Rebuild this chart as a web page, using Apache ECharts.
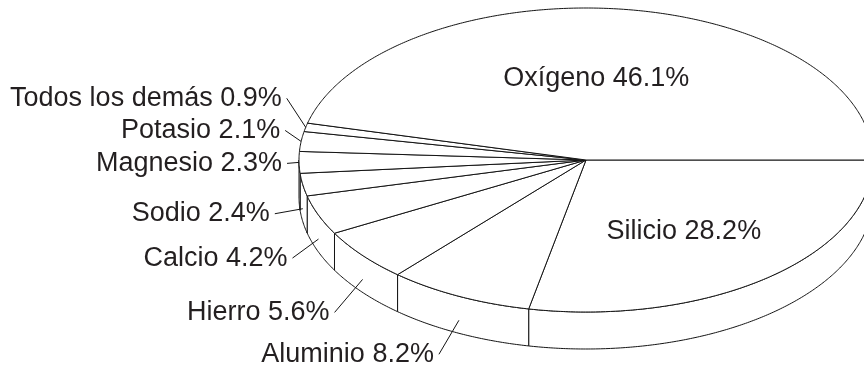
<!DOCTYPE html>
<html>
<head>
<meta charset="utf-8">
<script src="https://cdn.jsdelivr.net/npm/echarts@6/dist/echarts.min.js"></script>
<style>
  html, body { margin: 0; padding: 0; background: #ffffff; }
  #chart { width: 864px; height: 373px; }
</style>
</head>
<body>
<div id="chart"></div>
<script>
// Composition of the Earth's crust by element (percent), listed clockwise from 3 o'clock
const categories = ['Silicio', 'Aluminio', 'Hierro', 'Calcio', 'Sodio', 'Magnesio', 'Potasio', 'Todos los demás', 'Oxígeno'];
const values = [28.2, 8.2, 5.6, 4.2, 2.4, 2.3, 2.1, 0.9, 46.1];

// Layout of the tilted pie (pixels)
const PIE = { cx: 586, cy: 160, rx: 287, ry: 152, depth: 37 };
const LINE = '#141414';
const TEXT = '#231f20';
const FONT = '27px "Liberation Sans", Arial, Helvetica, sans-serif';
// Leader line vectors for outside labels (null = label inside the slice)
const leaderVectors = [null, [-20, 34], [-28, 33], [-26, 19], [-28, 5], [-12, 1], [-16, -11], [-19, -29], null];
// Outside labels attached to the side wall rather than the rim
const anchorOnWall = [false, true, true, true, true, false, false, false, false];
// Nudges for the labels drawn inside their slices
const insideNudge = [[-2, 7], null, null, null, null, null, null, null, [-9, 2]];
const INSIDE_FRACTION = 0.55;
const WALL_DROP = 24;
const LABEL_GAP = 5;

const total = values.reduce((s, v) => s + v, 0);
const cumulative = [];
values.reduce((s, v, i) => { cumulative[i] = s; return s + v; }, 0);

const rad = d => d * Math.PI / 180;
function rim(deg, dy) {
  return [PIE.cx + PIE.rx * Math.cos(rad(deg)), PIE.cy + PIE.ry * Math.sin(rad(deg)) + (dy || 0)];
}
function arc(a, b, dy) {
  const n = Math.max(2, Math.ceil(Math.abs(b - a) / 0.5));
  const pts = [];
  for (let k = 0; k <= n; k++) pts.push(rim(a + (b - a) * k / n, dy));
  return pts;
}

function renderItem(params, api) {
  const i = params.dataIndex;
  const v = api.value(0);
  const a0 = cumulative[i] / total * 360;
  const a1 = a0 + v / total * 360;
  const mid = (a0 + a1) / 2;
  const lineStyle = { fill: '#ffffff', stroke: LINE, lineWidth: 1 };
  const children = [];

  // side wall on the front half of the disc
  const w0 = Math.max(a0, 0), w1 = Math.min(a1, 180);
  if (w1 > w0) {
    const pts = arc(w0, w1, 0).concat(arc(w1, w0, PIE.depth));
    children.push({ type: 'polygon', shape: { points: pts }, style: lineStyle });
  }

  // top face
  const top = [[PIE.cx, PIE.cy]].concat(arc(a0, a1, 0));
  children.push({ type: 'polygon', shape: { points: top }, style: lineStyle });

  // label
  const label = categories[i] + ' ' + v.toFixed(1) + '%';
  const vec = leaderVectors[i];
  if (vec) {
    const p = rim(mid, anchorOnWall[i] ? WALL_DROP : 0);
    const end = [p[0] + vec[0], p[1] + vec[1]];
    children.push({
      type: 'line',
      shape: { x1: p[0], y1: p[1], x2: end[0], y2: end[1] },
      style: { stroke: LINE, lineWidth: 1 }
    });
    children.push({
      type: 'text',
      style: {
        text: label, x: end[0] - LABEL_GAP, y: end[1],
        fill: TEXT, font: FONT,
        align: 'right', verticalAlign: 'middle'
      }
    });
  } else {
    const nudge = insideNudge[i] || [0, 0];
    const x = PIE.cx + PIE.rx * INSIDE_FRACTION * Math.cos(rad(mid)) + nudge[0];
    const y = PIE.cy + PIE.ry * INSIDE_FRACTION * Math.sin(rad(mid)) + nudge[1];
    children.push({
      type: 'text',
      style: {
        text: label, x: x, y: y,
        fill: TEXT, font: FONT,
        align: 'center', verticalAlign: 'middle'
      }
    });
  }
  return { type: 'group', children: children };
}

const chart = echarts.init(document.getElementById('chart'), null, { renderer: 'canvas' });
chart.setOption({
  backgroundColor: '#ffffff',
  animation: false,
  series: [{
    type: 'custom',
    coordinateSystem: 'none',
    silent: true,
    renderItem: renderItem,
    data: values.map((v, i) => ({ name: categories[i], value: [v] }))
  }]
});
</script>
</body>
</html>
